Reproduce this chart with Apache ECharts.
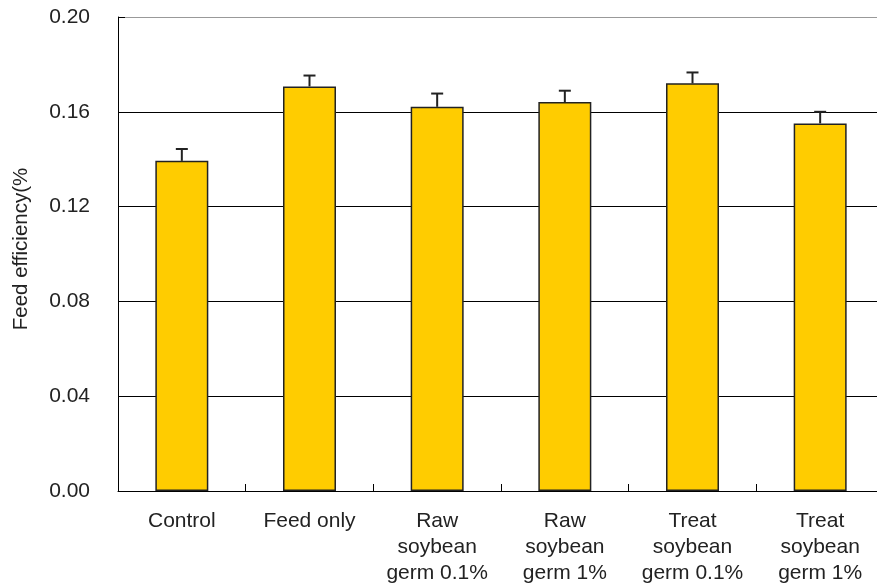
<!DOCTYPE html>
<html>
<head>
<meta charset="utf-8">
<script src="https://cdn.jsdelivr.net/npm/echarts@6/dist/echarts.min.js"></script>
<style>
  html, body { margin: 0; padding: 0; background: #fff; }
  #chart { width: 877px; height: 586px; }
</style>
</head>
<body>
<div id="chart"></div>
<script>
// Feed efficiency by treatment group (mean with upper error bar)
const categories = [
  'Control',
  'Feed only',
  'Raw\nsoybean\ngerm 0.1%',
  'Raw\nsoybean\ngerm 1%',
  'Treat\nsoybean\ngerm 0.1%',
  'Treat\nsoybean\ngerm 1%'
];
const means = [0.1393, 0.1707, 0.1621, 0.1641, 0.1720, 0.1551];
const errors = [0.0050, 0.0046, 0.0056, 0.0048, 0.0046, 0.0049];
const yTicks = { min: 0, max: 0.20, interval: 0.04 };

const FONT = '"Liberation Sans", Arial, sans-serif';
const TEXT = '#222';

const chart = echarts.init(document.getElementById('chart'), null, { renderer: 'canvas' });

chart.setOption({
  animation: false,
  backgroundColor: '#fff',
  grid: {
    left: 118, top: 17, width: 766, height: 474,
    containLabel: false, outerBoundsMode: 'none'
  },
  xAxis: {
    type: 'category',
    data: categories,
    axisLine: { lineStyle: { color: '#000', width: 1 } },
    axisTick: { show: true, inside: true, length: 7, alignWithLabel: false, lineStyle: { color: '#000' } },
    axisLabel: {
      color: TEXT, fontFamily: FONT, fontSize: 21, lineHeight: 26,
      margin: 17, interval: 0
    },
    splitLine: { show: false }
  },
  yAxis: {
    type: 'value',
    min: yTicks.min, max: yTicks.max, interval: yTicks.interval,
    name: 'Feed efficiency(%',
    nameLocation: 'middle',
    nameGap: 86,
    nameRotate: 90,
    nameTextStyle: { color: TEXT, fontFamily: FONT, fontSize: 20.5, padding: [0, 0, 0, 10] },
    axisLine: { show: true, lineStyle: { color: '#000', width: 1 } },
    axisTick: { show: true, inside: true, length: 7, lineStyle: { color: '#000' } },
    axisLabel: {
      color: TEXT, fontFamily: FONT, fontSize: 21, margin: 28,
      formatter: v => v.toFixed(2)
    },
    splitLine: {
      show: true,
      lineStyle: { color: ['#000', '#000', '#000', '#000', '#000', '#999'], width: 1 }
    }
  },
  series: [
    {
      type: 'bar',
      data: means,
      barWidth: '41.5%',
      itemStyle: { color: '#FFCC00', borderColor: '#222', borderWidth: 1.5 },
      z: 2
    },
    {
      type: 'custom',
      z: 3,
      data: means.map((m, i) => [i, m, m + errors[i]]),
      renderItem: (params, api) => {
        const base = api.coord([api.value(0), api.value(1)]);
        const top = api.coord([api.value(0), api.value(2)]);
        const half = 6;
        const style = { stroke: '#222', lineWidth: 2 };
        return {
          type: 'group',
          children: [
            { type: 'line', shape: { x1: base[0], y1: base[1], x2: top[0], y2: top[1] }, style },
            { type: 'line', shape: { x1: top[0] - half, y1: top[1], x2: top[0] + half, y2: top[1] }, style }
          ]
        };
      }
    }
  ]
});
</script>
</body>
</html>
